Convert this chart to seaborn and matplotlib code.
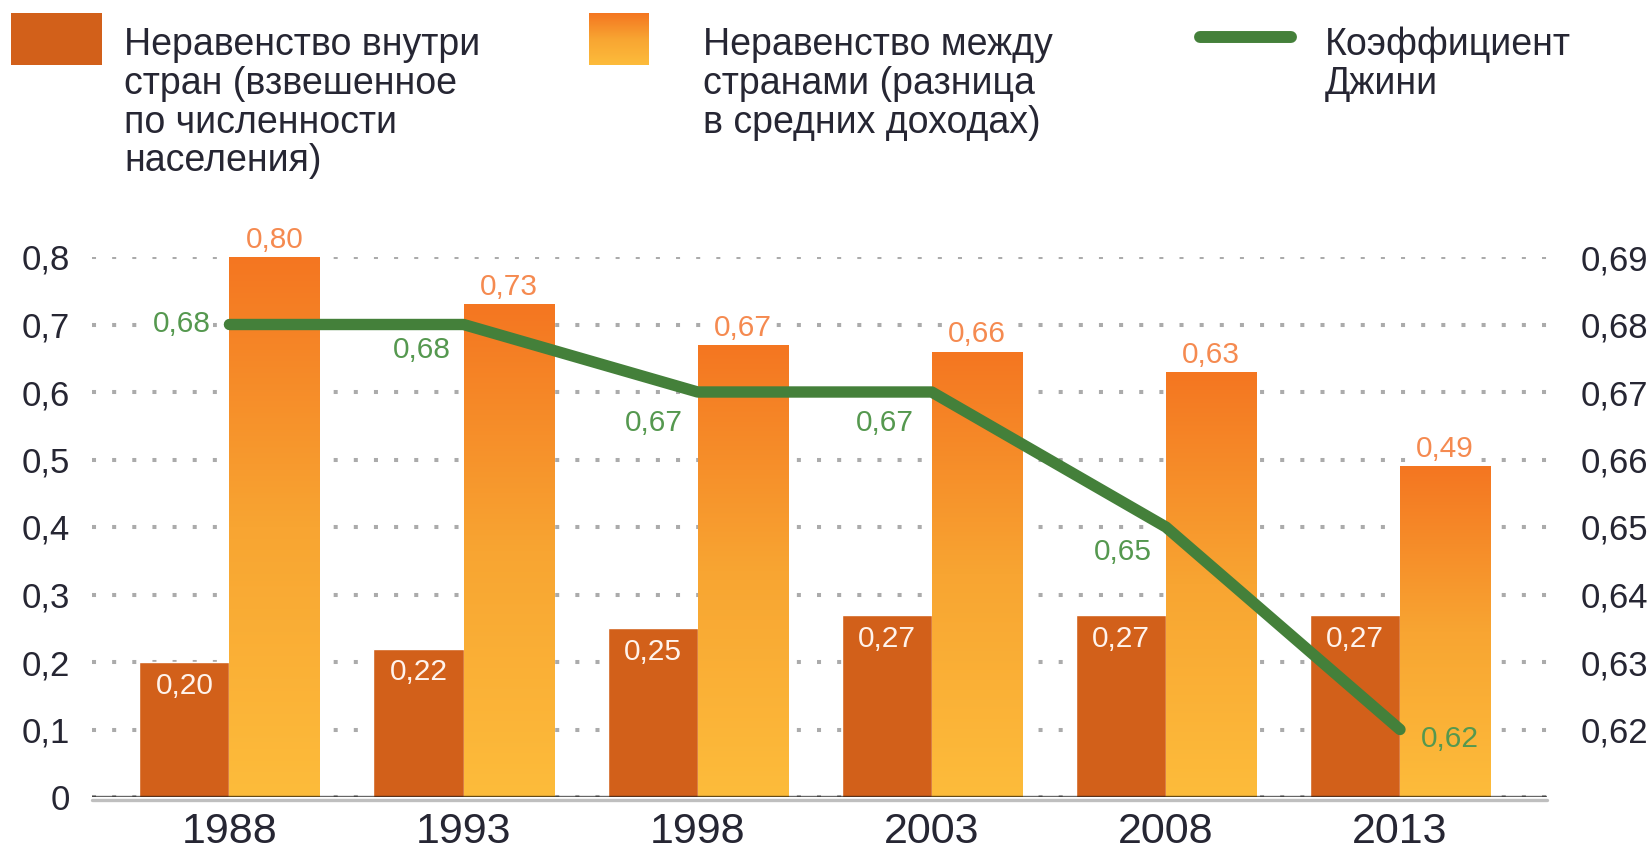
import numpy as np
import pandas as pd
import matplotlib
matplotlib.use('Agg')
import matplotlib.pyplot as plt
import seaborn as sns
from matplotlib import font_manager
from matplotlib.patches import Rectangle
from matplotlib.lines import Line2D
from matplotlib.transforms import ScaledTranslation
from matplotlib.colors import LinearSegmentedColormap

# --- data ---
years = ['1988', '1993', '1998', '2003', '2008', '2013']
within = [0.20, 0.22, 0.25, 0.27, 0.27, 0.27]
between = [0.80, 0.73, 0.67, 0.66, 0.63, 0.49]
gini = [0.68, 0.68, 0.67, 0.67, 0.65, 0.62]

left_ticks = [0, 0.1, 0.2, 0.3, 0.4, 0.5, 0.6, 0.7, 0.8]
right_ticks = [0.62, 0.63, 0.64, 0.65, 0.66, 0.67, 0.68, 0.69]

legend_within = ['Неравенство внутри', 'стран (взвешенное', 'по численности', 'населения)']
legend_between = ['Неравенство между', 'странами (разница', 'в средних доходах)']
legend_gini = ['Коэффициент', 'Джини']

# --- style ---
DARK = '#D2601A'
ORANGE_TOP = '#F47621'
YELLOW_BOT = '#FDBC3B'
GREEN = '#44803A'
GREEN_LBL = '#55984F'
LIGHT_LBL = '#F58A50'
TICK = '#262633'
GRID = '#ABABAB'

sns.set_theme(style='white')
installed = {f.name for f in font_manager.fontManager.ttflist}
if 'Liberation Sans Narrow' in installed:
    NARROW, LBL_SIZE, YEAR_SIZE = 'Liberation Sans Narrow', 23, 36
else:
    NARROW, LBL_SIZE, YEAR_SIZE = 'Liberation Sans', 21.5, 31
plt.rcParams['font.family'] = ['Liberation Sans', 'DejaVu Sans']

W, H = 1650, 849
PX = 72 / 100  # points per pixel

fig = plt.figure(figsize=(W / 100, H / 100), dpi=100)
fig.patch.set_facecolor('white')
ax = fig.add_axes([92 / W, 1 - 797 / H, (1547 - 92) / W, (797 - 257) / H])

df = pd.DataFrame({
    'year': years * 2,
    'series': ['within'] * len(years) + ['between'] * len(years),
    'value': within + between,
})
sns.barplot(data=df, x='year', y='value', hue='series', palette=[DARK, YELLOW_BOT],
            width=0.77, saturation=1, ax=ax, legend=False, zorder=2)

grad_cmap = LinearSegmentedColormap.from_list('bar', [YELLOW_BOT, '#F8A532', ORANGE_TOP])
grad = np.linspace(0, 1, 256).reshape(-1, 1)

# gradient fill for the "between" bars
for bar in ax.containers[1]:
    x0, w, h = bar.get_x(), bar.get_width(), bar.get_height()
    bar.set_facecolor('none')
    bar.set_edgecolor('none')
    im = ax.imshow(grad, cmap=grad_cmap, origin='lower', aspect='auto',
                   extent=[x0, x0 + w, 0, h], zorder=2)
    im.set_clip_path(bar)

fam = [NARROW, 'DejaVu Sans']
white_box = dict(boxstyle='square,pad=0.1', fc='white', ec='none')

# bar value labels
for bar, v in zip(ax.containers[0], within):
    ax.annotate(f'{v:.2f}'.replace('.', ','), (bar.get_x() + bar.get_width() / 2, bar.get_height()),
                xytext=(0, -24 * PX), textcoords='offset points', ha='center', va='center',
                color='#FFF3EC', fontsize=LBL_SIZE, family=fam, annotation_clip=False, zorder=5)
for bar, v in zip(ax.containers[1], between):
    ax.annotate(f'{v:.2f}'.replace('.', ','), (bar.get_x() + bar.get_width() / 2, bar.get_height()),
                xytext=(0, 17 * PX), textcoords='offset points', ha='center', va='center',
                color=LIGHT_LBL, fontsize=LBL_SIZE, family=fam, bbox=white_box,
                annotation_clip=False, zorder=5)

ax.set_axisbelow(True)
ax.yaxis.grid(True, color=GRID, lw=2.9, linestyle=(0, (1, 4)))
ax.xaxis.grid(False)
ax.set_yticks(left_ticks)
ax.set_yticklabels(['0' if t == 0 else f'{t:.1f}'.replace('.', ',') for t in left_ticks])
ax.tick_params(axis='y', length=0, pad=16, labelsize=25, labelcolor=TICK)
ax.tick_params(axis='x', length=0, pad=11, labelsize=YEAR_SIZE, labelcolor=TICK)
for lbl in ax.get_xticklabels():
    lbl.set_family(fam)
ax.set_xlabel('')
ax.set_ylabel('')
for s in ax.spines.values():
    s.set_visible(False)

# baseline
ax.axhline(0, color='black', alpha=0.6, lw=1.7, zorder=4)
ax.plot([0, 1], [0, 0], transform=ax.get_yaxis_transform() + ScaledTranslation(0, -3 / 100, fig.dpi_scale_trans),
        color='black', alpha=0.25, lw=2.4, clip_on=False, zorder=4)

# Gini on the right axis
ax2 = ax.twinx()
sns.lineplot(x=np.arange(len(years)), y=gini, ax=ax2, color=GREEN, lw=8.2, solid_capstyle='round', zorder=3)
ax2.set_ylim(0.61, 0.69)
ax2.set_yticks(right_ticks)
ax2.set_yticklabels([f'{t:.2f}'.replace('.', ',') for t in right_ticks])
ax2.tick_params(axis='y', length=0, pad=24, labelsize=25, labelcolor=TICK)
ax2.grid(False)
ax2.set_ylabel('')
for s in ax2.spines.values():
    s.set_visible(False)

gini_offsets = [(-48, 0), (-42, 25), (-44, 31), (-47, 31), (-43, 25), (50, 9)]
for i, (v, (dx, dy)) in enumerate(zip(gini, gini_offsets)):
    ax2.annotate(f'{v:.2f}'.replace('.', ','), (i, v), xytext=(dx * PX, -dy * PX),
                 textcoords='offset points', ha='center', va='center', color=GREEN_LBL,
                 fontsize=LBL_SIZE, family=fam, annotation_clip=False, zorder=5,
                 bbox=white_box if i == 0 else None)

ax.set_xlim(-0.587, 5.628)
ax.set_ylim(0, 0.8)

# --- legend drawn in pixel space ---
lax = fig.add_axes([0, 0, 1, 1])
lax.axis('off')
lax.add_patch(Rectangle((11, 13), 91, 52, color=DARK, lw=0))
lax.imshow(grad[::-1], cmap=grad_cmap, origin='upper', aspect='auto', extent=[589, 649, 65, 13])
lax.add_line(Line2D([1200, 1291], [37, 37], lw=8.6, color=GREEN, solid_capstyle='round'))
for x0, lines in [(124, legend_within), (703, legend_between), (1325, legend_gini)]:
    for k, line in enumerate(lines):
        lax.text(x0, 55 + 38.8 * k, line, fontsize=27, color=TICK, va='baseline', ha='left')
lax.set_xlim(0, W)
lax.set_ylim(H, 0)

fig.savefig('out.png', dpi=100)
